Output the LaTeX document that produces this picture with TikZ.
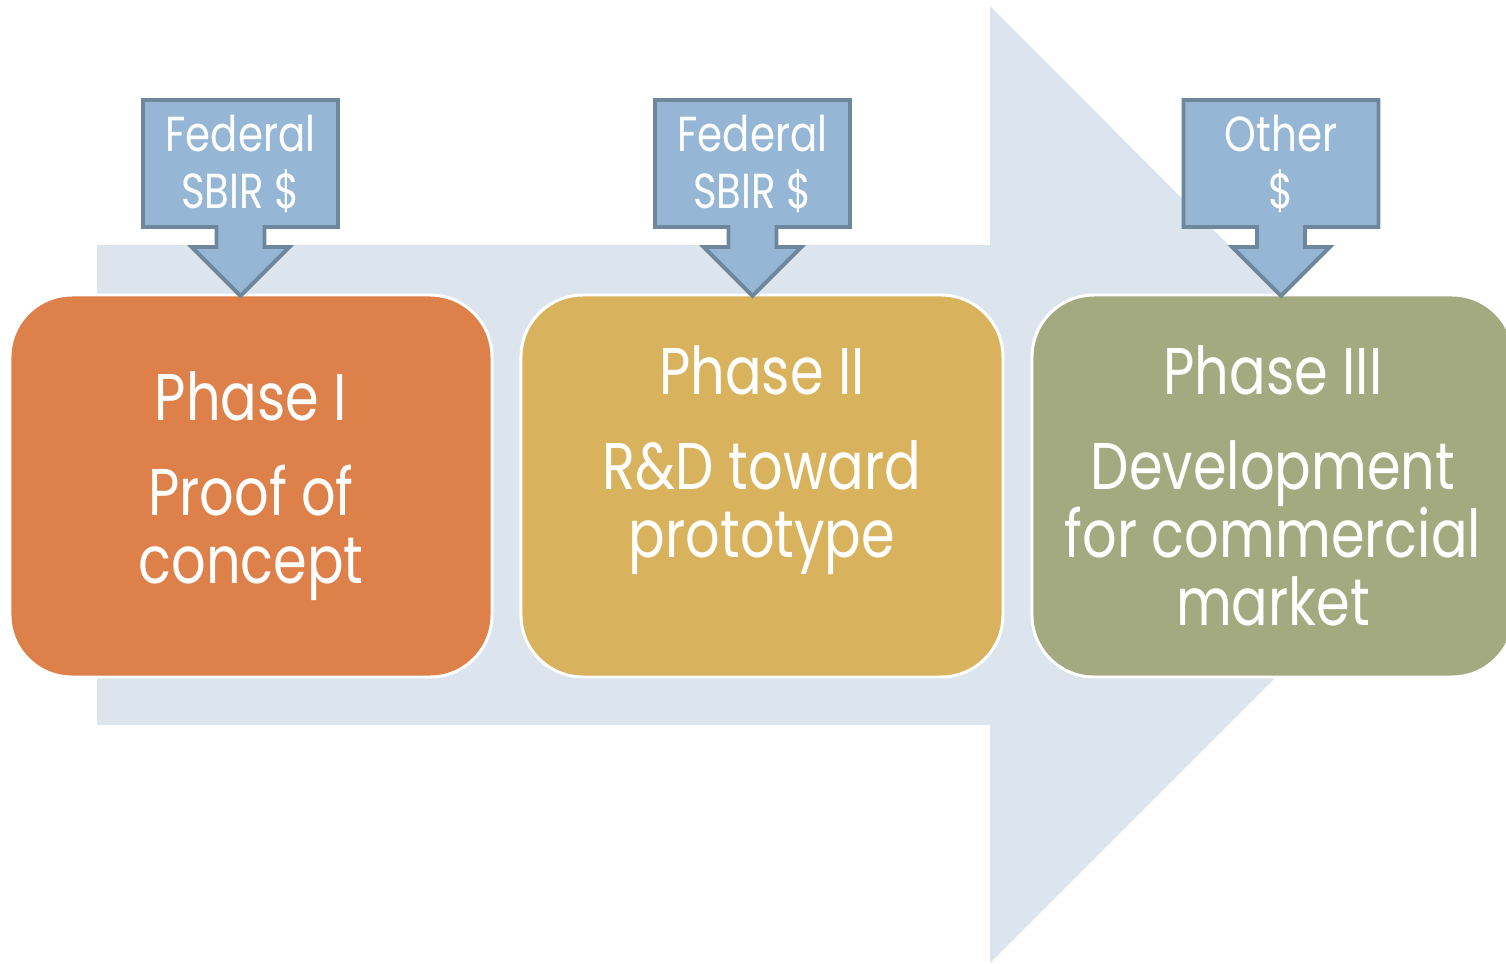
\documentclass[tikz,border=0pt]{standalone}
\usepackage{fontspec}
\setmainfont{Poppins}[FakeStretch=0.82]
\usetikzlibrary{positioning,shapes.arrows}
\definecolor{flowbg}{HTML}{DCE4EE}
\definecolor{fundblue}{HTML}{95B6D4}
\definecolor{fundedge}{HTML}{6E879C}
\definecolor{phaseone}{HTML}{DE8049}
\definecolor{phasetwo}{HTML}{D8B25C}
\definecolor{phasethree}{HTML}{A4AA80}
\begin{document}
\begin{tikzpicture}[
    phase/.style={rectangle, rounded corners=0.62cm, draw=white, line width=0.85pt,
        minimum width=4.82cm, minimum height=3.82cm, inner sep=0pt,
        text=white, align=center, font=\fontsize{18.8}{19.35}\selectfont},
    fund/.style={arrow box, arrow box arrows={south:0.67cm from border},
        arrow box shaft width=0.48cm, arrow box head extend=0.25cm,
        arrow box head indent=0cm, arrow box tip angle=90,
        fill=fundblue, draw=fundedge, line width=1.1pt,
        minimum width=1.95cm, minimum height=1.27cm, inner sep=0pt,
        text=white, align=center, font=\fontsize{14}{16.2}\selectfont},
]
\useasboundingbox (0,0) rectangle (15.06,9.63);
\clip (0,0) rectangle (15.06,9.63);

% big background arrow
\fill[flowbg] (0.97,7.18) -- (9.90,7.18) -- (9.90,9.57) -- (14.68,4.78)
    -- (9.90,0) -- (9.90,2.38) -- (0.97,2.38) -- cycle;

\node[phase, fill=phaseone] (p1) at (2.51,4.77) {Phase I\\[0.27cm]Proof of\\concept};
\node[phase, fill=phasetwo, right=0.26cm of p1] (p2) {Phase II\\[0.27cm]R\&D toward\\prototype\\~};
\node[phase, fill=phasethree, right=0.26cm of p2] (p3) {Phase III\\[0.27cm]Development\\for commercial\\market};

\node[fund] (f1) at (2.405,7.995) {Federal\\SBIR \$};
\node[fund] (f2) at (7.525,7.995) {Federal\\SBIR \$};
\node[fund] (f3) at (12.81,7.995) {Other\\\$};
\end{tikzpicture}
\end{document}
